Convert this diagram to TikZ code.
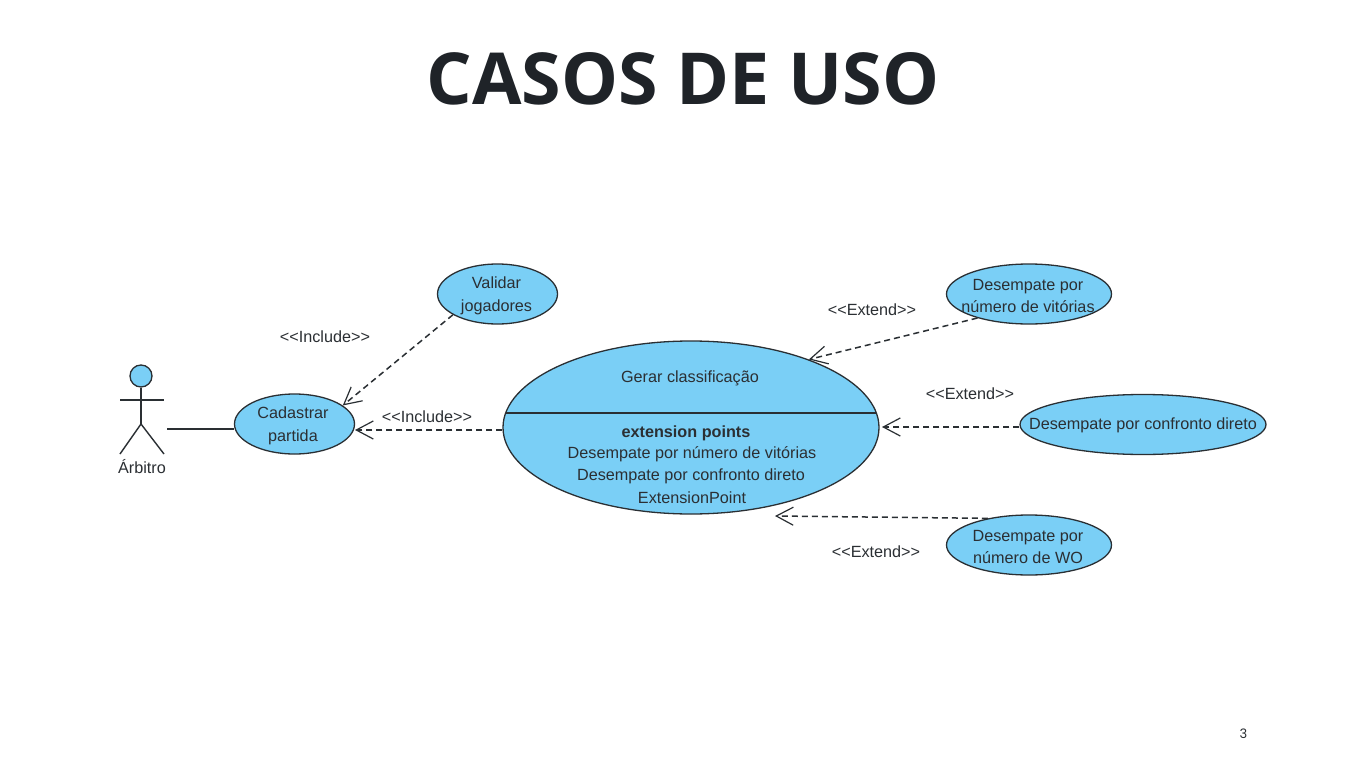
\documentclass[tikz,border=0pt]{standalone}
\usepackage{fontspec}
\setmainfont{Liberation Sans}
\newfontfamily\titlefont{Open Sans}
\newfontfamily\numfont{Poppins}
\usetikzlibrary{shapes.geometric,arrows.meta}
\definecolor{ucfill}{HTML}{7ACFF6}
\definecolor{ucline}{HTML}{2A2F33}
\definecolor{ink}{HTML}{2B2F33}
\definecolor{titleink}{HTML}{1F2328}
\tikzset{
  usecase/.style={ellipse,draw=ucline,fill=ucfill,line width=1.3pt,inner sep=0pt},
  lbl/.style={inner sep=0pt,text=ink,align=center,font=\fontsize{16.2}{22.5}\selectfont},
  stereo/.style={inner sep=0pt,text=ink,font=\fontsize{16.2}{18}\selectfont},
  dep/.style={draw=ucline,line width=1.5pt,dash pattern=on 6pt off 4pt,-{Straight Barb[length=17pt,width=18pt,line width=1.2pt]}},
  solidline/.style={draw=ucline,line width=1.4pt},
}
\begin{document}
\begin{tikzpicture}[x=1pt,y=-1pt]
\useasboundingbox (0,0) rectangle (1366,768);
\fill[white] (0,0) rectangle (1366,768);
\node[inner sep=0pt,text=titleink,font=\titlefont\bfseries\fontsize{71.7}{80}\selectfont] (title) at (683,79) {CASOS DE USO};
\node[inner sep=0pt,text=ink,font=\numfont\fontsize{13}{15}\selectfont] (pagenum) at (1243.5,734) {3};

% use cases
\node[usecase,minimum width=120pt,minimum height=60pt] (valid) at (497.5,294) {};
\node[usecase,minimum width=120pt,minimum height=60pt] (cad) at (294.5,424) {};
\node[usecase,minimum width=376pt,minimum height=173pt] (main) at (691,427.5) {};
\node[usecase,minimum width=165pt,minimum height=60pt] (ext1) at (1029,294) {};
\node[usecase,minimum width=246pt,minimum height=60pt] (ext2) at (1143,424.5) {};
\node[usecase,minimum width=165pt,minimum height=60pt] (ext3) at (1029,545) {};

% use case names
\node[lbl] (validT) at (496.5,296) {Validar\\jogadores};
\node[lbl] (cadT) at (293,426) {Cadastrar\\partida};
\node[lbl] (ext1T) at (1028,296) {Desempate por\\número de vitórias};
\node[lbl] (ext2T) at (1143,425) {Desempate por confronto direto};
\node[lbl] (ext3T) at (1028,547) {Desempate por\\número de WO};

% main compartment
\coordinate (compL) at (505.7,413);
\coordinate (compR) at (876.3,413);
\draw[solidline] (compL) -- (compR);
\node[lbl] (maintitle) at (690,378) {Gerar classificação};
\node[lbl,font=\bfseries\fontsize{16.2}{22.5}\selectfont] (extpts) at (686,433) {extension points};
\node[lbl] (ep1) at (692,454) {Desempate por número de vitórias};
\node[lbl] (ep2) at (691,476) {Desempate por confronto direto};
\node[lbl] (ep3) at (692,498) {ExtensionPoint};

% actor
\node[circle,draw=ucline,fill=ucfill,line width=1.3pt,minimum size=22pt,inner sep=0pt] (head) at (141,376) {};
\coordinate (hip) at (141,424);
\coordinate (armL) at (120,400);
\coordinate (armR) at (164,400);
\coordinate (legL) at (120,454);
\coordinate (legR) at (164,454);
\draw[solidline] (head.south) -- (hip);
\draw[solidline] (armL) -- (armR);
\draw[solidline] (legL) -- (hip) -- (legR);
\node[lbl] (actor) at (142,467) {Árbitro};
\coordinate (assocStart) at (167,429);
\draw[solidline] (assocStart) -- (cad.west |- assocStart);

% dependencies
\coordinate (tipE2) at (882,427);
\coordinate (tipE3) at (775,516);
\coordinate (tipI2) at (355,430);
\draw[dep] (valid.205.8) -- (cad.21.4);
\draw[dep] (main.west |- tipI2) -- (tipI2);
\draw[dep] (ext1.205.2) -- (main.30.3);
\draw[dep] (ext2.west |- tipE2) -- (tipE2);
\draw[dep] (ext3.147) -- (tipE3);

% stereotypes
\node[stereo] (s1) at (325,337) {<{}<Include>{}>};
\node[stereo] (s2) at (427,417) {<{}<Include>{}>};
\node[stereo] (s3) at (872,310) {<{}<Extend>{}>};
\node[stereo] (s4) at (970,394) {<{}<Extend>{}>};
\node[stereo] (s5) at (876,552) {<{}<Extend>{}>};
\end{tikzpicture}
\end{document}
